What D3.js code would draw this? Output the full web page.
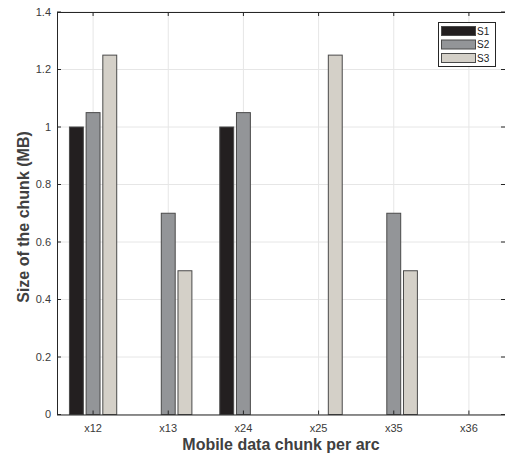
<!DOCTYPE html>
<html>
<head>
<meta charset="utf-8">
<script src="https://cdn.jsdelivr.net/npm/d3@7"></script>
<style>
  body { margin: 0; background: #fff; }
  svg { display: block; font-family: "Liberation Sans", Arial, sans-serif; }
</style>
</head>
<body>
<div id="chart"></div>
<script>
// Data
const categories = ['x12', 'x13', 'x24', 'x25', 'x35', 'x36'];
const seriesNames = ['S1', 'S2', 'S3'];
const s1 = [1.0, 0, 1.0, 0, 0, 0];
const s2 = [1.05, 0.7, 1.05, 0, 0.7, 0];
const s3 = [1.25, 0.5, 0, 1.25, 0.5, 0];
const yTicks = [0, 0.2, 0.4, 0.6, 0.8, 1, 1.2, 1.4];
const colors = ['#231f20', '#939598', '#d4d0c8'];

const W = 505, H = 459;
const margin = { top: 12, right: 0, bottom: 44, left: 57 };
const series = [s1, s2, s3];

const svg = d3.select('#chart').append('svg')
  .attr('width', W).attr('height', H);

const x = d3.scaleLinear()
  .domain([0.52, 6.48])
  .range([margin.left, W - margin.right]);

const y = d3.scaleLinear()
  .domain([0, 1.4])
  .range([H - margin.bottom - 0.5, margin.top]);

const idx = d3.range(1, categories.length + 1);

// grid
const grid = svg.append('g');
grid.selectAll('.gx').data(idx).enter().append('line')
  .attr('x1', d => x(d)).attr('x2', d => x(d))
  .attr('y1', y(0)).attr('y2', y(1.4))
  .attr('stroke', '#e6e6e6').attr('stroke-width', 1);
grid.selectAll('.gy').data(yTicks).enter().append('line')
  .attr('x1', x.range()[0]).attr('x2', x.range()[1])
  .attr('y1', d => y(d)).attr('y2', d => y(d))
  .attr('stroke', '#e6e6e6').attr('stroke-width', 1);

// bars
const barW = 0.185, step = 0.222;
const bars = svg.append('g');
series.forEach((vals, si) => {
  bars.selectAll('.b' + si).data(vals).enter().append('rect')
    .attr('x', (d, i) => x(i + 1 + (si - 1) * step - barW / 2))
    .attr('width', x(barW) - x(0))
    .attr('y', d => y(d))
    .attr('height', d => y(0) - y(d))
    .attr('fill', colors[si])
    .attr('stroke', '#4a4a4a')
    .attr('stroke-width', 1);
});

// box + ticks
const axisColor = '#262626';
svg.append('rect')
  .attr('x', x.range()[0] + 0.5).attr('y', y(1.4) + 0.5)
  .attr('width', x.range()[1] - x.range()[0]).attr('height', y(0) - y(1.4))
  .attr('fill', 'none').attr('stroke', axisColor).attr('stroke-width', 1);

const tickLen = 4;
const ticks = svg.append('g').attr('stroke', axisColor);
idx.forEach(d => {
  ticks.append('line').attr('x1', x(d)).attr('x2', x(d))
    .attr('y1', y(0)).attr('y2', y(0) - tickLen);
  ticks.append('line').attr('x1', x(d)).attr('x2', x(d))
    .attr('y1', y(1.4)).attr('y2', y(1.4) + tickLen);
});
yTicks.forEach(d => {
  ticks.append('line').attr('x1', x.range()[0]).attr('x2', x.range()[0] + tickLen)
    .attr('y1', y(d)).attr('y2', y(d));
  ticks.append('line').attr('x1', x.range()[1]).attr('x2', x.range()[1] - tickLen)
    .attr('y1', y(d)).attr('y2', y(d));
});

// tick labels
svg.append('g').selectAll('text').data(categories).enter().append('text')
  .attr('x', (d, i) => x(i + 1)).attr('y', y(0) + 17)
  .attr('text-anchor', 'middle')
  .style('font-size', '11px').style('fill', '#3a3a3a')
  .text(d => d);

svg.append('g').selectAll('text').data(yTicks).enter().append('text')
  .attr('x', x.range()[0] - 6).attr('y', d => y(d))
  .attr('dy', '0.35em')
  .attr('text-anchor', 'end')
  .style('font-size', '11px').style('fill', '#3a3a3a')
  .text(d => d);

// axis titles
svg.append('text')
  .attr('x', 281).attr('y', 450)
  .attr('text-anchor', 'middle')
  .style('font-size', '16px').style('font-weight', 'bold').style('fill', '#404040')
  .text('Mobile data chunk per arc');

svg.append('text')
  .attr('transform', 'translate(29,217) rotate(-90)')
  .attr('text-anchor', 'middle')
  .style('font-size', '16px').style('font-weight', 'bold').style('fill', '#404040')
  .text('Size of the chunk (MB)');

// legend
const lg = svg.append('g').attr('transform', 'translate(438,22)');
lg.append('rect').attr('x', 0.5).attr('y', 0.5).attr('width', 57).attr('height', 44)
  .attr('fill', '#fff').attr('stroke', '#262626');
seriesNames.forEach((name, i) => {
  lg.append('rect')
    .attr('x', 3.5).attr('y', 4.5 + i * 13.5).attr('width', 34).attr('height', 9)
    .attr('fill', colors[i]).attr('stroke', '#4a4a4a');
  lg.append('text')
    .attr('x', 39).attr('y', 9 + i * 13.5).attr('dy', '0.35em')
    .style('font-size', '10px').style('fill', '#222')
    .text(name);
});
</script>
</body>
</html>
